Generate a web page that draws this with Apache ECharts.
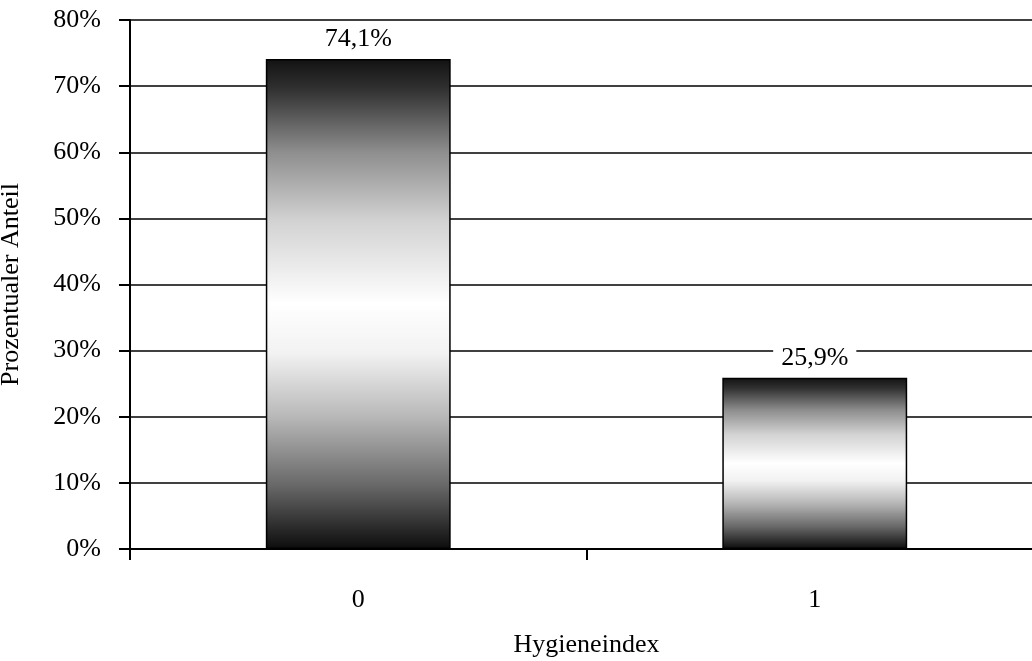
<!DOCTYPE html>
<html>
<head>
<meta charset="utf-8">
<style>
  html, body { margin: 0; padding: 0; background: #fff; }
  #chart { width: 1032px; height: 661px; }
</style>
<script src="https://cdn.jsdelivr.net/npm/echarts@6/dist/echarts.min.js"></script>
</head>
<body>
<div id="chart"></div>
<script>
// Hygiene index distribution (share of cases per index value)
const categories = ['0', '1'];
const shares = [74.1, 25.9];
const yTicks = [0, 10, 20, 30, 40, 50, 60, 70, 80];

const font = 'Liberation Serif, Times New Roman, serif';
const fontSize = 26;

// dark edges fading to white in the middle of each bar
const barFill = {
  type: 'linear', x: 0, y: 0, x2: 0, y2: 1,
  colorStops: [
    { offset: 0, color: '#121212' },
    { offset: 0.06, color: '#303030' },
    { offset: 0.19, color: '#8e8e8e' },
    { offset: 0.33, color: '#d2d2d2' },
    { offset: 0.5, color: '#ffffff' },
    { offset: 0.6, color: '#f2f2f2' },
    { offset: 0.73, color: '#b8b8b8' },
    { offset: 0.87, color: '#686868' },
    { offset: 1, color: '#0c0c0c' }
  ]
};

const chart = echarts.init(document.getElementById('chart'));
chart.setOption({
  animation: false,
  backgroundColor: '#fff',
  // plot area runs slightly past the right edge of the canvas
  grid: { left: 130, right: -11, top: 20, bottom: 112, outerBoundsMode: 'none', containLabel: false },
  xAxis: {
    type: 'category',
    data: categories,
    name: 'Hygieneindex',
    nameLocation: 'middle',
    nameGap: 83,
    nameTextStyle: { fontFamily: font, fontSize: fontSize, color: '#000' },
    axisLine: { lineStyle: { color: '#000', width: 2 } },
    axisTick: { show: true, length: 11, lineStyle: { color: '#000', width: 2 } },
    axisLabel: { fontFamily: font, fontSize: fontSize, color: '#000', margin: 38 }
  },
  yAxis: {
    type: 'value',
    min: yTicks[0],
    max: yTicks[yTicks.length - 1],
    interval: 10,
    name: 'Prozentualer Anteil',
    nameLocation: 'middle',
    nameGap: 106,
    nameTextStyle: { fontFamily: font, fontSize: fontSize, color: '#000' },
    axisLine: { show: true, lineStyle: { color: '#000', width: 2 } },
    axisTick: { show: true, length: 11, lineStyle: { color: '#000', width: 2 } },
    axisLabel: {
      fontFamily: font, fontSize: fontSize, color: '#000', margin: 29,
      formatter: v => v + '%'
    },
    splitLine: {
      show: true,
      lineStyle: { color: '#000', width: 1.5 }
    }
  },
  series: [{
    type: 'bar',
    data: shares,
    barWidth: '40.5%',
    itemStyle: { color: barFill, borderColor: '#000', borderWidth: 1.5 },
    label: {
      show: true,
      position: 'top',
      distance: 6,
      fontFamily: font,
      fontSize: fontSize,
      color: '#000',
      backgroundColor: '#fff',
      padding: [1, 8, 1, 8],
      formatter: p => p.value.toFixed(1).replace('.', ',') + '%'
    }
  }]
});
</script>
</body>
</html>
